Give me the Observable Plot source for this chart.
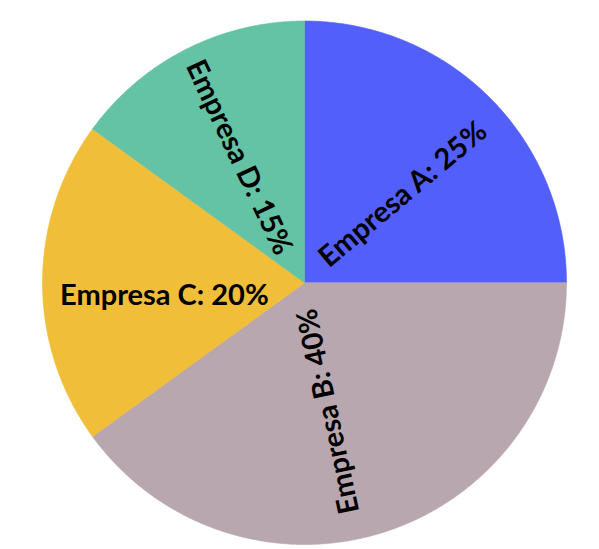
<!DOCTYPE html>
<html>
<head>
<meta charset="utf-8">
<script src="https://cdn.jsdelivr.net/npm/d3@7"></script>
<script src="https://cdn.jsdelivr.net/npm/@observablehq/plot@0.6"></script>
<style>
  html, body { margin: 0; padding: 0; background: #ffffff; }
  #chart svg { display: block; }
</style>
</head>
<body>
<div id="chart"></div>
<script>
// ---- data ----
const companies = ["Empresa A", "Empresa B", "Empresa C", "Empresa D"];
const shares = [25, 40, 20, 15];
const sliceColors = ["#525ffb", "#b8a7ae", "#f0be38", "#64c2a5"];

// ---- label layout (angle in degrees clockwise from top, radius as fraction, rotation) ----
const labelAngle = [48.1, 169.5, 264.8, 332.4];
const labelRadius = [0.505, 0.50, 0.537, 0.54];
const labelRotate = [-40, -102, 0, 64.7];

// build slices with d3.pie (clockwise from 12 o'clock, original order)
const pie = d3.pie().sort(null).value(d => d.share)(
  companies.map((name, i) => ({name, share: shares[i]}))
);

const outline = [];
for (const s of pie) {
  const name = s.data.name;
  outline.push({name, x: 0, y: 0});
  const n = Math.max(2, Math.ceil((s.endAngle - s.startAngle) / (Math.PI / 360)));
  for (let k = 0; k <= n; k++) {
    const a = s.startAngle + (s.endAngle - s.startAngle) * k / n;
    outline.push({name, x: Math.sin(a), y: Math.cos(a)});
  }
  outline.push({name, x: 0, y: 0});
}

const labels = companies.map((name, i) => {
  const a = labelAngle[i] * Math.PI / 180;
  return {
    text: `${name}: ${shares[i]}%`,
    x: labelRadius[i] * Math.sin(a),
    y: labelRadius[i] * Math.cos(a),
    rotate: labelRotate[i]
  };
});

const chart = Plot.plot({
  width: 599,
  height: 549,
  marginLeft: 42,
  marginRight: 33,
  marginTop: 20.5,
  marginBottom: 5,
  x: {domain: [-1, 1], axis: null},
  y: {domain: [-1, 1], axis: null},
  color: {domain: companies, range: sliceColors},
  style: {background: "#ffffff"},
  marks: [
    Plot.line(outline, {x: "x", y: "y", z: "name", fill: "name", stroke: "name", strokeWidth: 0.6, curve: "linear-closed"}),
    Plot.text(labels, {
      x: "x", y: "y", text: "text", rotate: "rotate",
      fill: "#000000", fontSize: 29, fontWeight: "bold",
      fontFamily: "Lato, 'Open Sans', sans-serif",
      textAnchor: "middle"
    })
  ]
});

document.getElementById("chart").appendChild(chart);
</script>
</body>
</html>
